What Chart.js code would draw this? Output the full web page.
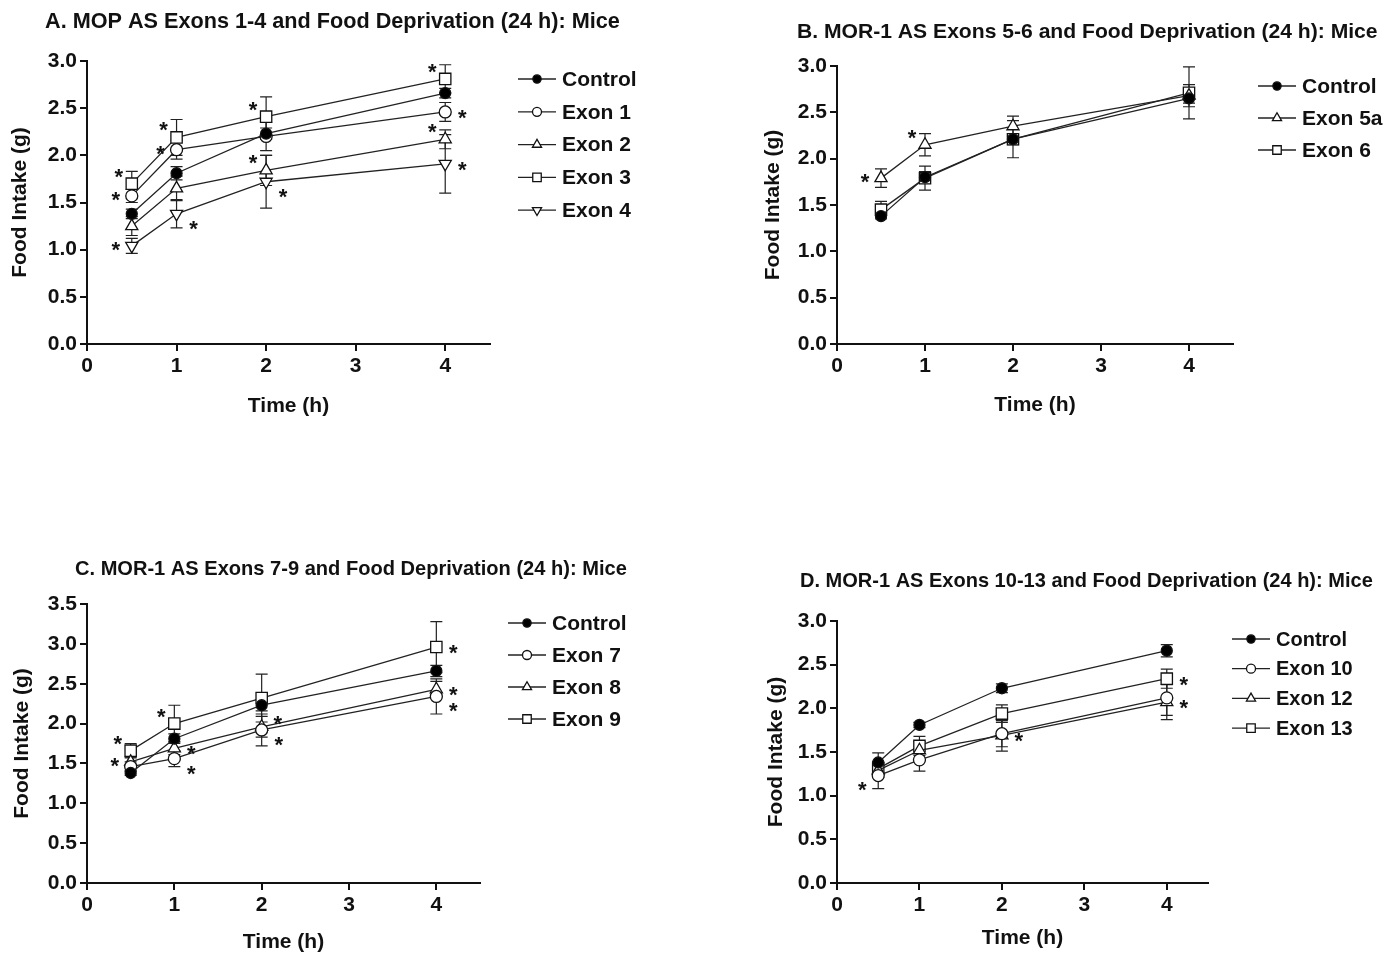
<!DOCTYPE html>
<html>
<head>
<meta charset="utf-8">
<script src="https://cdn.jsdelivr.net/npm/chart.js@4.4.1/dist/chart.umd.min.js"></script>
<style>
body{margin:0;background:#fff;width:1385px;height:953px;overflow:hidden;position:relative}
canvas{position:absolute}
</style>
</head>
<body>
<canvas id="chartA"></canvas>
<canvas id="chartB"></canvas>
<canvas id="chartC"></canvas>
<canvas id="chartD"></canvas>
<script>
var times = [0.5, 1, 2, 4];

// A. MOP AS exons 1-4
var aLabels = ['Control', 'Exon 1', 'Exon 2', 'Exon 3', 'Exon 4'];
var aControl = [1.38, 1.81, 2.23, 2.66];
var aControlErr = [0.05, 0.07, 0.06, 0.05];
var aExon1 = [1.57, 2.06, 2.20, 2.46];
var aExon1Err = [0.07, 0.10, 0.15, 0.10];
var aExon2 = [1.25, 1.65, 1.84, 2.17];
var aExon2Err = [0.10, 0.13, 0.16, 0.10];
var aExon3 = [1.70, 2.19, 2.41, 2.81];
var aExon3Err = [0.13, 0.19, 0.21, 0.15];
var aExon4 = [1.04, 1.38, 1.72, 1.91];
var aExon4Err = [0.08, 0.15, 0.28, 0.31];
var aStars = [[3,0,'ul'],[1,0,'l'],[4,0,'l'],[3,1,'ul'],[1,1,'l'],[4,1,'dr'],[3,2,'ul'],[2,2,'ul'],[4,2,'dr'],[3,3,'ul'],[1,3,'r'],[2,3,'ul'],[4,3,'r']];

// B. MOR-1 AS exons 5-6
var bLabels = ['Control', 'Exon 5a', 'Exon 6'];
var bControl = [1.38, 1.80, 2.21, 2.65];
var bControlErr = [0.03, 0.06, 0.06, 0.05];
var bExon5a = [1.79, 2.15, 2.35, 2.68];
var bExon5aErr = [0.10, 0.12, 0.11, 0.12];
var bExon6 = [1.45, 1.79, 2.21, 2.71];
var bExon6Err = [0.09, 0.13, 0.20, 0.28];
var bStars = [[1,0,'l'],[1,1,'ul']];

// C. MOR-1 AS exons 7-9
var cLabels = ['Control', 'Exon 7', 'Exon 8', 'Exon 9'];
var cControl = [1.38, 1.81, 2.23, 2.66];
var cControlErr = [0.03, 0.06, 0.07, 0.07];
var cExon7 = [1.46, 1.56, 1.92, 2.34];
var cExon7Err = [0.06, 0.10, 0.20, 0.22];
var cExon8 = [1.52, 1.69, 1.96, 2.43];
var cExon8Err = [0.06, 0.08, 0.13, 0.10];
var cExon9 = [1.66, 2.00, 2.32, 2.96];
var cExon9Err = [0.09, 0.23, 0.30, 0.32];
var cStars = [[3,0,'ul'],[2,0,'l'],[3,1,'ul'],[2,1,'r'],[1,1,'dr'],[2,2,'ur'],[1,2,'dr'],[3,3,'r'],[2,3,'r'],[1,3,'dr']];

// D. MOR-1 AS exons 10-13
var dLabels = ['Control', 'Exon 10', 'Exon 12', 'Exon 13'];
var dControl = [1.38, 1.81, 2.23, 2.66];
var dControlErr = [0.11, 0.03, 0.05, 0.07];
var dExon10 = [1.23, 1.41, 1.71, 2.12];
var dExon10Err = [0.15, 0.13, 0.15, 0.20];
var dExon12 = [1.29, 1.52, 1.69, 2.07];
var dExon12Err = [0.08, 0.10, 0.18, 0.20];
var dExon13 = [1.31, 1.57, 1.94, 2.34];
var dExon13Err = [0.08, 0.11, 0.10, 0.11];
var dStars = [[1,0,'dl'],[2,2,'r'],[3,3,'r'],[2,3,'r']];

var FONT = "'Liberation Sans', Arial, Helvetica, sans-serif";
var INK = '#111';

var markers = {
	dot: {pointStyle: 'circle', radius: 5.5, fill: '#000', rotation: 0},
	circle: {pointStyle: 'circle', radius: 6, fill: '#fff', rotation: 0},
	triangle: {pointStyle: 'triangle', radius: 7, fill: '#fff', rotation: 0},
	rect: {pointStyle: 'rect', radius: 8, fill: '#fff', rotation: 0},
	tridown: {pointStyle: 'triangle', radius: 7, fill: '#fff', rotation: 180}
};

var starOffsets = {ul: [-13,-13], l: [-16,-2], r: [17,0], dr: [17,9], ur: [16,-9], dl: [-16,8]};

var panels = [
	{id: 'chartA', box: [0,0,692,440], area: [87,61,490,344], ymax: 3.0,
	 title: 'A. MOP AS Exons 1-4 and Food Deprivation (24 h): Mice', titleAt: [45,22,575],
	 legendAt: [518,79,32.8], legendSize: 21, yTitleX: 20, xTitleY: 406,
	 labels: aLabels, values: [aControl,aExon1,aExon2,aExon3,aExon4], errs: [aControlErr,aExon1Err,aExon2Err,aExon3Err,aExon4Err],
	 styles: ['dot','circle','triangle','rect','tridown'], stars: aStars},
	{id: 'chartB', box: [692,0,693,440], area: [837,66,1233,344], ymax: 3.0,
	 title: 'B. MOR-1 AS Exons 5-6 and Food Deprivation (24 h): Mice', titleAt: [797,32,581],
	 legendAt: [1258,86,32], legendSize: 21, yTitleX: 773, xTitleY: 405,
	 labels: bLabels, values: [bControl,bExon5a,bExon6], errs: [bControlErr,bExon5aErr,bExon6Err],
	 styles: ['dot','triangle','rect'], stars: bStars},
	{id: 'chartC', box: [0,470,692,483], area: [87,604,480,883], ymax: 3.5,
	 title: 'C. MOR-1 AS Exons 7-9 and Food Deprivation (24 h): Mice', titleAt: [75,569,552],
	 legendAt: [508,623,32], legendSize: 21, yTitleX: 22, xTitleY: 942,
	 labels: cLabels, values: [cControl,cExon7,cExon8,cExon9], errs: [cControlErr,cExon7Err,cExon8Err,cExon9Err],
	 styles: ['dot','circle','triangle','rect'], stars: cStars},
	{id: 'chartD', box: [692,470,693,483], area: [837,621,1208,883], ymax: 3.0,
	 title: 'D. MOR-1 AS Exons 10-13 and Food Deprivation (24 h): Mice', titleAt: [800,581,573],
	 legendAt: [1232,639,29.7], legendSize: 20, yTitleX: 776, xTitleY: 938,
	 labels: dLabels, values: [dControl,dExon10,dExon12,dExon13], errs: [dControlErr,dExon10Err,dExon12Err,dExon13Err],
	 styles: ['dot','circle','triangle','rect'], stars: dStars}
];

function drawMarker(ctx, m, x, y, scale) {
	var r = m.radius * scale;
	ctx.save();
	ctx.fillStyle = m.fill;
	ctx.strokeStyle = '#111';
	ctx.lineWidth = 1.3;
	ctx.beginPath();
	if (m.pointStyle === 'circle') {
		ctx.arc(x, y, r, 0, Math.PI * 2);
	} else if (m.pointStyle === 'rect') {
		var s = r * Math.SQRT1_2;
		ctx.rect(x - s, y - s, 2 * s, 2 * s);
	} else {
		var rot = m.rotation * Math.PI / 180;
		for (var k = 0; k < 3; k++) {
			var a = rot - Math.PI / 2 + k * 2 * Math.PI / 3;
			var px = x + Math.cos(a) * r, py = y + Math.sin(a) * r;
			if (k === 0) ctx.moveTo(px, py); else ctx.lineTo(px, py);
		}
		ctx.closePath();
	}
	ctx.fill();
	ctx.stroke();
	ctx.restore();
}

function makeExtras(p) {
	var cx = p.box[0], cy = p.box[1];
	return {
		id: 'extras',
		beforeDatasetsDraw: function(chart) {
			var ctx = chart.ctx, xs = chart.scales.x, ys = chart.scales.y;
			ctx.save();
			ctx.strokeStyle = '#222';
			ctx.lineWidth = 1.2;
			chart.data.datasets.forEach(function(ds) {
				ds.data.forEach(function(pt, i) {
					var e = ds.err[i];
					var x = xs.getPixelForValue(pt.x);
					var y1 = ys.getPixelForValue(pt.y + e), y2 = ys.getPixelForValue(pt.y - e);
					ctx.beginPath();
					ctx.moveTo(x, y1); ctx.lineTo(x, y2);
					ctx.moveTo(x - 6, y1); ctx.lineTo(x + 6, y1);
					ctx.moveTo(x - 6, y2); ctx.lineTo(x + 6, y2);
					ctx.stroke();
				});
			});
			ctx.restore();
		},
		afterDraw: function(chart) {
			var ctx = chart.ctx, xs = chart.scales.x, ys = chart.scales.y;
			ctx.save();
			ctx.fillStyle = INK;
			ctx.textBaseline = 'middle';
			ctx.textAlign = 'left';
			// title, sized to the width it takes in the figure
			ctx.font = 'bold 21px ' + FONT;
			var size = 21 * p.titleAt[2] / ctx.measureText(p.title).width;
			ctx.font = 'bold ' + size.toFixed(2) + 'px ' + FONT;
			ctx.fillText(p.title, p.titleAt[0] - cx, p.titleAt[1] - cy);

			// legend
			var lx = p.legendAt[0] - cx, ly = p.legendAt[1] - cy, gap = p.legendAt[2];
			ctx.font = 'bold ' + p.legendSize + 'px ' + FONT;
			p.labels.forEach(function(lab, i) {
				var y = ly + i * gap;
				ctx.strokeStyle = '#222';
				ctx.lineWidth = 1.3;
				ctx.beginPath();
				ctx.moveTo(lx, y); ctx.lineTo(lx + 38, y);
				ctx.stroke();
				drawMarker(ctx, markers[p.styles[i]], lx + 19, y, 0.75);
				ctx.fillStyle = INK;
				ctx.fillText(lab, lx + 44, y + 1);
			});

			// significance marks
			ctx.font = 'bold 22px ' + FONT;
			ctx.textAlign = 'center';
			ctx.textBaseline = 'alphabetic';
			p.stars.forEach(function(s) {
				var off = starOffsets[s[2]];
				var x = xs.getPixelForValue(times[s[1]]) + off[0];
				var y = ys.getPixelForValue(p.values[s[0]][s[1]]) + off[1];
				ctx.fillText('*', x, y + 13);
			});
			ctx.restore();
		}
	};
}

panels.forEach(function(p) {
	var el = document.getElementById(p.id);
	el.width = p.box[2];
	el.height = p.box[3];
	el.style.left = p.box[0] + 'px';
	el.style.top = p.box[1] + 'px';
	el.style.width = p.box[2] + 'px';
	el.style.height = p.box[3] + 'px';

	var datasets = p.values.map(function(vals, i) {
		var m = markers[p.styles[i]];
		return {
			label: p.labels[i],
			data: times.map(function(t, j) { return {x: t, y: vals[j]}; }),
			err: p.errs[i],
			borderColor: '#222',
			borderWidth: 1.3,
			tension: 0,
			pointStyle: m.pointStyle,
			pointRadius: m.radius,
			pointRotation: m.rotation,
			pointBackgroundColor: m.fill,
			pointBorderColor: '#111',
			pointBorderWidth: 1.3
		};
	});

	var yWidth = p.area[0] - p.box[0];
	var xHeight = p.box[1] + p.box[3] - p.area[3];

	new Chart(el, {
		type: 'line',
		data: {datasets: datasets},
		options: {
			responsive: false,
			animation: false,
			devicePixelRatio: 1,
			layout: {padding: {left: 0, bottom: 0, top: p.area[1] - p.box[1], right: p.box[0] + p.box[2] - p.area[2]}},
			plugins: {legend: {display: false}, tooltip: {enabled: false}},
			scales: {
				x: {
					type: 'linear', min: 0, max: 4.5,
					afterFit: function(s) { s.height = xHeight; },
					border: {color: INK, width: 2},
					grid: {drawOnChartArea: false, drawTicks: true, tickLength: 7, color: INK, lineWidth: 2},
					ticks: {stepSize: 1, includeBounds: false, padding: 3, color: INK, font: {family: FONT, size: 21, weight: 'bold'}},
					title: {display: true, text: 'Time (h)', color: INK,
						font: {family: FONT, size: 21, weight: 'bold', lineHeight: 1},
						padding: {top: 0, bottom: p.box[1] + p.box[3] - p.xTitleY - 10.5}}
				},
				y: {
					min: 0, max: p.ymax,
					afterFit: function(s) { s.width = yWidth; },
					border: {color: INK, width: 2},
					grid: {drawOnChartArea: false, drawTicks: true, tickLength: 7, color: INK, lineWidth: 2},
					ticks: {stepSize: 0.5, padding: 3, color: INK, font: {family: FONT, size: 21, weight: 'bold'},
						callback: function(v) { return v.toFixed(1); }},
					title: {display: true, text: 'Food Intake (g)', color: INK,
						font: {family: FONT, size: 21, weight: 'bold', lineHeight: 1},
						padding: {top: p.yTitleX - p.box[0] - 10.5, bottom: 0}}
				}
			}
		},
		plugins: [makeExtras(p)]
	});
});
</script>
</body>
</html>
